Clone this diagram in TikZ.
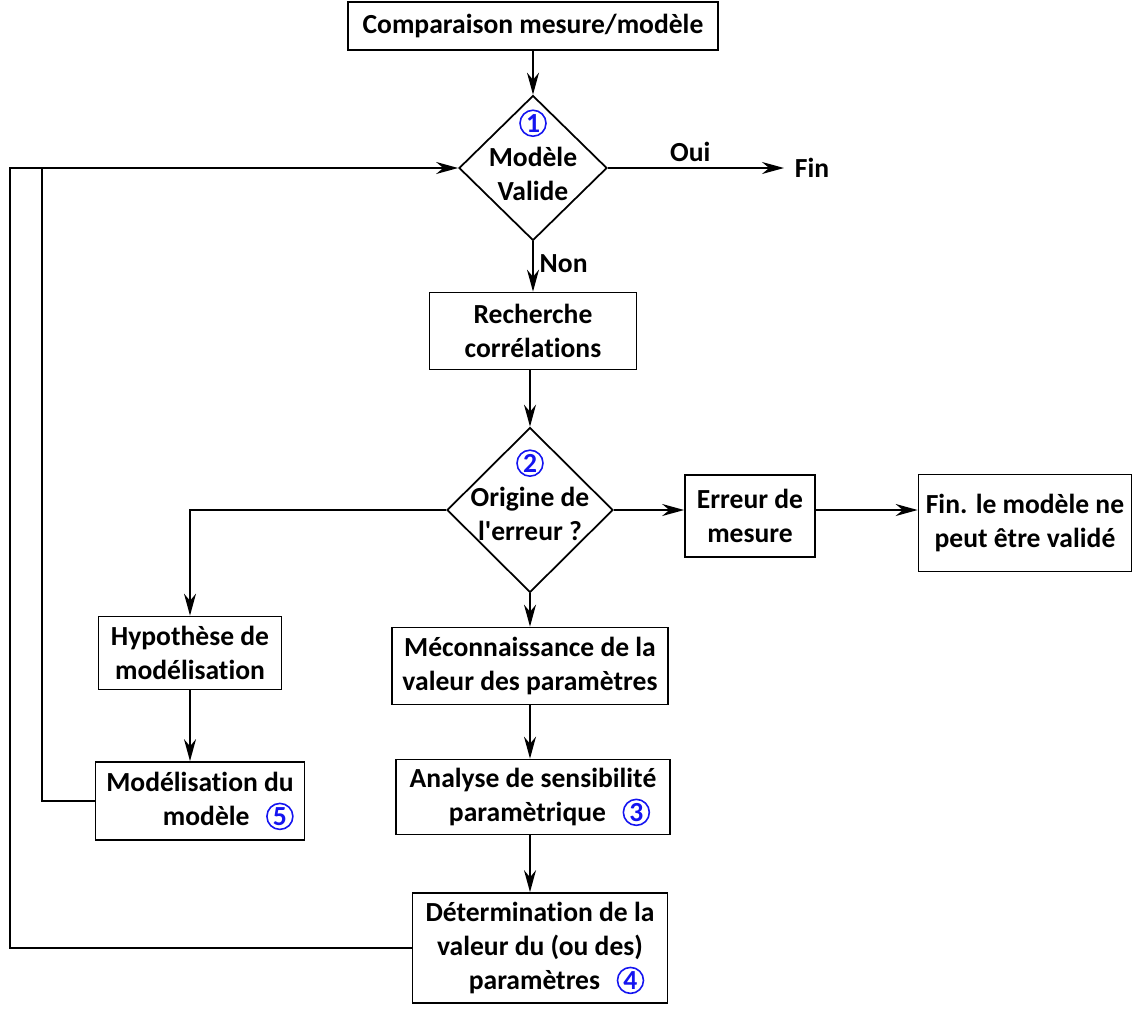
\documentclass[tikz,border=0pt]{standalone}
\usepackage{fontspec}
\setmainfont{Carlito}[Ligatures=NoCommon]
\usetikzlibrary{arrows.meta,shapes.geometric}
\definecolor{numblue}{RGB}{20,20,240}
\newcommand{\etape}[1]{\tikz[baseline=(n.base)]\node[circle,draw=numblue,text=numblue,line width=0.9pt,inner sep=0pt,minimum size=0.52cm] (n) {#1};}

\begin{document}
\begin{tikzpicture}[x=0.02cm,y=-0.02cm,
  box/.style={draw,line width=1pt,align=center,inner sep=0pt,
              font=\fontsize{15.7}{19.4}\selectfont\bfseries},
  losange/.style={draw,diamond,line width=1pt,inner sep=0pt},
  txt/.style={align=center,font=\fontsize{15.7}{19.4}\selectfont\bfseries},
  arr/.style={-{Stealth[length=4.4mm,width=2.4mm]},line width=1pt}]
\useasboundingbox (0,0) rectangle (1143,1008);
% top of the chart
\node[box,minimum width=7.4cm,minimum height=0.96cm] (comp) at (533,26) {Comparaison mesure/modèle};
\node[losange,minimum width=2.96cm,minimum height=2.9cm] (d1) at (533,168) {};
\node[txt] at (533,155) {\etape{1}\\Modèle\\Valide};
\node[txt,inner sep=2pt] (fin) at (812,168) {Fin};
\node[box,minimum width=4.14cm,minimum height=1.54cm] (rech) at (533,331) {Recherche\\corrélations};
\node[losange,minimum width=3.32cm,minimum height=3.3cm] (d2) at (530,510) {};
\node[txt] at (530,495) {\etape{2}\\Origine de\\l\textquotesingle erreur ?};
\node[box,minimum width=2.6cm,minimum height=1.64cm] (err) at (750,516) {Erreur de\\mesure};
\node[box,minimum width=4.26cm,minimum height=1.94cm] (finb) at (1025,523) {Fin. le modèle ne\\peut être validé};
% left branch
\node[box,minimum width=3.66cm,minimum height=1.46cm] (hyp) at (190,653) {Hypothèse de\\modélisation};
\node[box,minimum width=4.18cm,minimum height=1.56cm,align=right] (mod) at (200,801) {Modélisation du\\modèle\hspace{0.6em}\etape{5}};
% middle branch
\node[box,minimum width=5.52cm,minimum height=1.54cm] (mec) at (530,666) {Méconnaissance de la\\valeur des paramètres};
\node[box,minimum width=5.48cm,minimum height=1.5cm] (ana) at (533,797) {Analyse de sensibilité\\\hspace*{1.2em}paramètrique\hspace{0.6em}\etape{3}};
\node[box,minimum width=5.1cm,minimum height=2.2cm] (det) at (540,948) {Détermination de la\\valeur du (ou des)\\\hspace*{1.2em}paramètres\hspace{0.6em}\etape{4}};
\coordinate (ret1) at (10,168);
\coordinate (ret2) at (42,168);
% connectors
\draw[arr] (comp.south -| d1.north) -- (d1.north);
\draw[arr,shorten >=4pt] (d1.east) -- node[txt,above,pos=0.45] {Oui} (fin.west);
\draw[arr] (d1.south) -- node[txt,right,pos=0.45] {Non} (d1.south |- rech.north);
\draw[arr] (rech.south -| d2.north) -- (d2.north);
\draw[arr] (d2.east) -- (d2.east -| err.west);
\draw[arr] (err.east |- d2.east) -- (d2.east -| finb.west);
\draw[arr] (d2.west) -| (hyp.north);
\draw[arr] (hyp.south) -- (hyp.south |- mod.north);
\draw[arr] (d2.south) -- (mec.north -| d2.south);
\draw[arr] (mec.south -| d2.south) -- (ana.north -| d2.south);
\draw[arr] (ana.south -| d2.south) -- (det.north -| d2.south);
\draw[arr] (det.west) -| (ret1) -- (d1.west);
\draw[line width=1pt] (mod.west) -| (ret2);
\end{tikzpicture}
\end{document}
